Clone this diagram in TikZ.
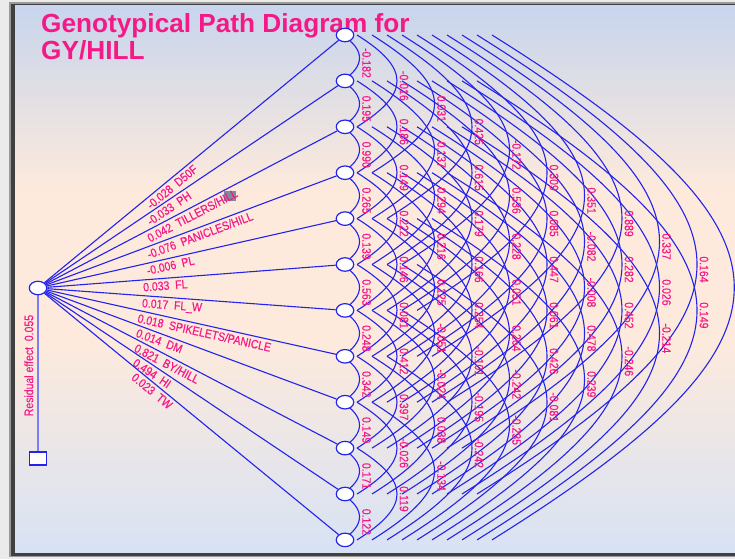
\documentclass[tikz,border=0pt]{standalone}
\usepackage{fontspec}
\setmainfont{Liberation Sans}
\newfontfamily\narrowsans[FakeStretch=0.86, FakeBold=0.4]{Liberation Sans}
\usetikzlibrary{calc,positioning,shapes.geometric}
\definecolor{linkblue}{RGB}{35,35,235}
\definecolor{residblue}{RGB}{125,125,250}
\definecolor{valpink}{RGB}{245,25,135}
\definecolor{bgtop}{RGB}{200,213,236}
\definecolor{bgmid}{RGB}{253,234,220}
\definecolor{bgbot}{RGB}{216,226,244}
\pgfdeclarelayer{bg}
\pgfdeclarelayer{wires}
\pgfsetlayers{bg,wires,main}

\begin{document}
\begin{tikzpicture}[x=1pt, y=-1pt, every node/.style={font=\narrowsans\fontsize{12.2}{13}\selectfont, text=valpink}, var/.style={ellipse, draw=linkblue, fill=white, line width=1.2pt, minimum width=17.5pt, minimum height=13.5pt, inner sep=0pt}, resbox/.style={rectangle, draw=linkblue, fill=white, line width=1.2pt, minimum width=17pt, minimum height=13pt, inner sep=0pt}, link/.style={draw=linkblue, line width=1.1pt}, corr/.style={draw=linkblue, line width=1.1pt}, effect/.style={sloped, anchor=north west, inner sep=2.5pt}, corrlbl/.style={rotate=-90, inner sep=0pt}, title/.style={anchor=base west, inner sep=0pt, font=\bfseries\fontsize{26.2}{27}\selectfont}]
\useasboundingbox (0,0) rectangle (735,559);
\begin{pgfonlayer}{bg}
\fill[black!8] (0,0) rectangle (735,559);
\fill[black!40] (9,2) rectangle (735,557);
\fill[black!75] (11,4) rectangle (735,556);
\shade[top color=bgtop, bottom color=bgmid] (15,6) rectangle (735,190);
\fill[bgmid] (15,189.5) rectangle (735,340.5);
\shade[top color=bgmid, bottom color=bgbot] (15,340) rectangle (735,552);
\fill[black!35!bgtop] (224,191) rectangle (236,201);
\end{pgfonlayer}
% title
\node[title] (title) at (41,33) {Genotypical Path Diagram for};
\node[title] (title2) at ([yshift=-27pt]title.base west) {GY/HILL};
% variables
\node[var] (src) at (38,288) {};
\node[resbox, below=156pt of src] (res) {};
\foreach \i in {1,...,12} \node[var] (n\i) at (345,{35+45.9*(\i-1)}) {};
\begin{pgfonlayer}{wires}
\draw[residblue, line width=1.5pt] (src) -- (res) node[pos=0.45, rotate=90, anchor=south, inner sep=4pt] {Residual effect\ \ 0.055};
\foreach \i/\b/\t/\p in {1/-0.028/D50F/.33, 2/-0.033/PH/.33, 3/0.042/{TILLERS/HILL}/.33, 4/-0.076/{PANICLES/HILL}/.33, 5/-0.006/PL/.33, 6/0.033/FL/.32, 7/0.017/FL\_W/.32, 8/0.018/{SPIKELETS/PANICLE}/.31, 9/0.014/DM/.31, 10/0.821/{BY/HILL}/.31, 11/0.494/HI/.31, 12/0.023/TW/.31}
  \draw[link] (src) -- (n\i) node[effect, pos=\p] {\b\ \ \t};
\end{pgfonlayer}
% correlations
\foreach \i/\j/\r in {1/2/-0.182, 2/3/0.195, 3/4/0.990, 4/5/0.265, 5/6/0.139, 6/7/0.563, 7/8/0.248, 8/9/0.342, 9/10/0.149, 10/11/0.171, 11/12/0.122,
  1/3/-0.016, 2/4/0.186, 3/5/0.149, 4/6/0.222, 5/7/0.146, 6/8/0.081, 7/9/0.412, 8/10/0.397, 9/11/-0.026, 10/12/0.119,
  1/4/0.031, 2/5/0.137, 3/6/0.294, 4/7/0.216, 5/8/0.125, 6/9/-0.051, 7/10/-0.024, 8/11/0.038, 9/12/-0.134,
  1/5/0.425, 2/6/0.615, 3/7/0.179, 4/8/0.166, 5/9/0.254, 6/10/-0.101, 7/11/-0.195, 8/12/-0.242,
  1/6/-0.172, 2/7/0.536, 3/8/0.228, 4/9/0.051, 5/10/0.264, 6/11/-0.242, 7/12/-0.235,
  1/7/0.309, 2/8/0.085, 3/9/0.447, 4/10/0.061, 5/11/0.426, 6/12/-0.081,
  1/8/0.351, 2/9/-0.082, 3/10/-0.008, 4/11/0.478, 5/12/0.239,
  1/9/0.889, 2/10/0.282, 3/11/0.452, 4/12/-0.246,
  1/10/0.337, 2/11/0.026, 3/12/-0.214,
  1/11/0.164, 2/12/0.149} {
  \pgfmathsetmacro\k{\j-\i}
  \pgfmathsetmacro\s{15*\k-18}
  \pgfmathsetmacro\c{(37.5*\k-23-\s)*4/3}
  \pgfmathsetmacro\d{0.625*\c}
  \pgfmathsetmacro\lx{37.5*\k-16}
  \begin{pgfonlayer}{wires}
  \draw[corr] ([xshift=\s pt]n\i.center) .. controls +(\c,\d) and +(\c,-\d) .. ([xshift=\s pt]n\j.center);
  \end{pgfonlayer}
  \node[corrlbl] (r\i-\j) at ($(n\i)!.5!(n\j)+(\lx,5)$) {\r};
}
\begin{pgfonlayer}{wires}
\draw[corr] ([xshift=147pt]n1.center) .. controls +(323,202) and +(323,-202) .. ([xshift=147pt]n12.center);
\end{pgfonlayer}
\end{tikzpicture}
\end{document}
